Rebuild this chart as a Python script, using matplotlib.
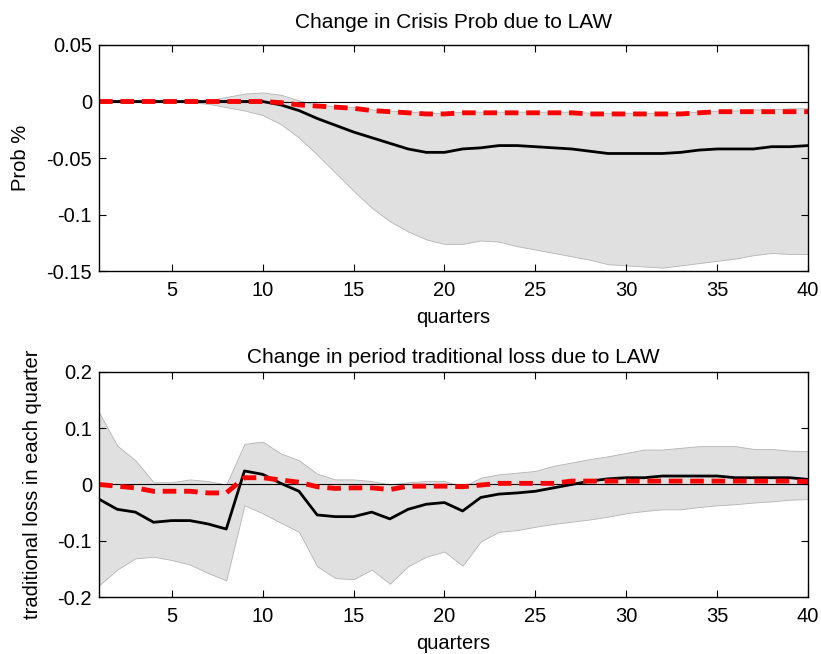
import numpy as np
import matplotlib
matplotlib.use("Agg")
import matplotlib.pyplot as plt

plt.rcParams['font.family'] = ['Liberation Sans', 'DejaVu Sans']

quarters = np.arange(1, 41)

# top panel: change in crisis probability
prob_median = [0, 0, 0, 0, 0, 0, 0, 0, 0, 0,
               -0.003, -0.008, -0.015, -0.021, -0.027, -0.032, -0.037, -0.042, -0.045, -0.045,
               -0.042, -0.041, -0.039, -0.039, -0.040, -0.041, -0.042, -0.044, -0.046, -0.046,
               -0.046, -0.046, -0.045, -0.043, -0.042, -0.042, -0.042, -0.040, -0.040, -0.039]
prob_alt = [0, 0, 0, 0, 0, 0, 0, 0, 0, 0,
            -0.001, -0.003, -0.004, -0.005, -0.006, -0.008, -0.009, -0.010, -0.011, -0.011,
            -0.010, -0.010, -0.010, -0.010, -0.010, -0.010, -0.010, -0.011, -0.011, -0.011,
            -0.011, -0.011, -0.011, -0.010, -0.009, -0.009, -0.009, -0.009, -0.009, -0.009]
prob_upper = [0, 0, 0, 0, 0, 0, 0.001, 0.004, 0.007, 0.008,
              0.006, 0.001, -0.003, -0.004, -0.005, -0.007, -0.008, -0.009, -0.010, -0.010,
              -0.009, -0.009, -0.009, -0.009, -0.009, -0.009, -0.009, -0.010, -0.010, -0.010,
              -0.010, -0.010, -0.010, -0.009, -0.008, -0.008, -0.007, -0.007, -0.006, -0.006]
prob_lower = [0, 0, 0, 0, 0, -0.001, -0.002, -0.005, -0.008, -0.012,
              -0.020, -0.032, -0.047, -0.063, -0.079, -0.094, -0.106, -0.115, -0.122, -0.126,
              -0.126, -0.123, -0.124, -0.128, -0.131, -0.134, -0.137, -0.140, -0.144, -0.145,
              -0.146, -0.147, -0.145, -0.143, -0.141, -0.139, -0.136, -0.134, -0.135, -0.135]

# bottom panel: change in period traditional loss
loss_median = [-0.026, -0.044, -0.049, -0.067, -0.064, -0.064, -0.070, -0.079, 0.024, 0.018,
               0.002, -0.012, -0.054, -0.057, -0.057, -0.049, -0.061, -0.044, -0.035, -0.032,
               -0.047, -0.023, -0.017, -0.015, -0.012, -0.006, 0.000, 0.006, 0.010, 0.012,
               0.012, 0.015, 0.015, 0.015, 0.015, 0.012, 0.012, 0.012, 0.012, 0.009]
loss_alt = [0.000, -0.003, -0.006, -0.012, -0.012, -0.012, -0.015, -0.015, 0.012, 0.012,
            0.008, 0.004, -0.004, -0.007, -0.006, -0.006, -0.009, -0.003, -0.003, -0.003,
            -0.004, -0.001, 0.002, 0.002, 0.002, 0.002, 0.006, 0.006, 0.006, 0.006,
            0.006, 0.006, 0.006, 0.006, 0.006, 0.006, 0.006, 0.006, 0.006, 0.005]
loss_upper = [0.128, 0.069, 0.043, 0.004, 0.004, 0.009, 0.006, 0.000, 0.072, 0.076,
              0.055, 0.043, 0.019, 0.009, 0.009, 0.006, 0.000, 0.004, 0.006, 0.006,
              -0.004, 0.012, 0.018, 0.021, 0.024, 0.033, 0.039, 0.045, 0.050, 0.056,
              0.062, 0.062, 0.065, 0.068, 0.068, 0.068, 0.063, 0.063, 0.060, 0.059]
loss_lower = [-0.179, -0.151, -0.131, -0.128, -0.134, -0.142, -0.157, -0.170, -0.037, -0.051,
              -0.068, -0.084, -0.145, -0.166, -0.168, -0.151, -0.176, -0.145, -0.128, -0.119,
              -0.144, -0.101, -0.084, -0.081, -0.075, -0.070, -0.066, -0.062, -0.057, -0.051,
              -0.047, -0.044, -0.044, -0.040, -0.037, -0.035, -0.032, -0.030, -0.027, -0.026]


def draw_panel(ax, lower, upper, median, alt, title, ylabel, yticks, ylim, title_pad, ylabelpad):
    ax.fill_between(quarters, lower, upper, facecolor='#e0e0e0', edgecolor='#b4b4b4', linewidth=0.6)
    ax.axhline(0, color='black', linewidth=0.8)
    ax.plot(quarters, median, color='black', linewidth=2.0)
    ax.plot(quarters, alt, color='red', linewidth=3.5, linestyle=(0, (2.8, 1.6)))
    ax.set_xlim(1, 40)
    ax.set_ylim(*ylim)
    ax.set_xticks([5, 10, 15, 20, 25, 30, 35, 40])
    ax.set_yticks(yticks)
    ax.set_yticklabels([('%g' % v) for v in yticks])
    ax.tick_params(direction='in', length=5, width=0.8, top=True, right=True, labelsize=14.5)
    ax.tick_params(axis='x', pad=7)
    ax.tick_params(axis='y', pad=5)
    for s in ax.spines.values():
        s.set_linewidth(1.0)
    ax.set_title(title, fontsize=15, pad=title_pad)
    ax.set_xlabel('quarters', fontsize=14.5, labelpad=6)
    ax.set_ylabel(ylabel, fontsize=14.5, labelpad=ylabelpad)


fig = plt.figure(figsize=(8.21, 6.54), dpi=100)
ax1 = fig.add_axes([0.1206, 0.5856, 0.8636, 0.3456])
ax2 = fig.add_axes([0.1206, 0.0867, 0.8636, 0.345])

draw_panel(ax1, prob_lower, prob_upper, prob_median, prob_alt,
           'Change in Crisis Prob due to LAW', 'Prob %',
           [0.05, 0, -0.05, -0.1, -0.15], (-0.15, 0.05), 12, 12)
draw_panel(ax2, loss_lower, loss_upper, loss_median, loss_alt,
           'Change in period traditional loss due to LAW', 'traditional loss in each quarter',
           [0.2, 0.1, 0, -0.1, -0.2], (-0.2, 0.2), 6, 11)

fig.savefig('out.png', dpi=100)
